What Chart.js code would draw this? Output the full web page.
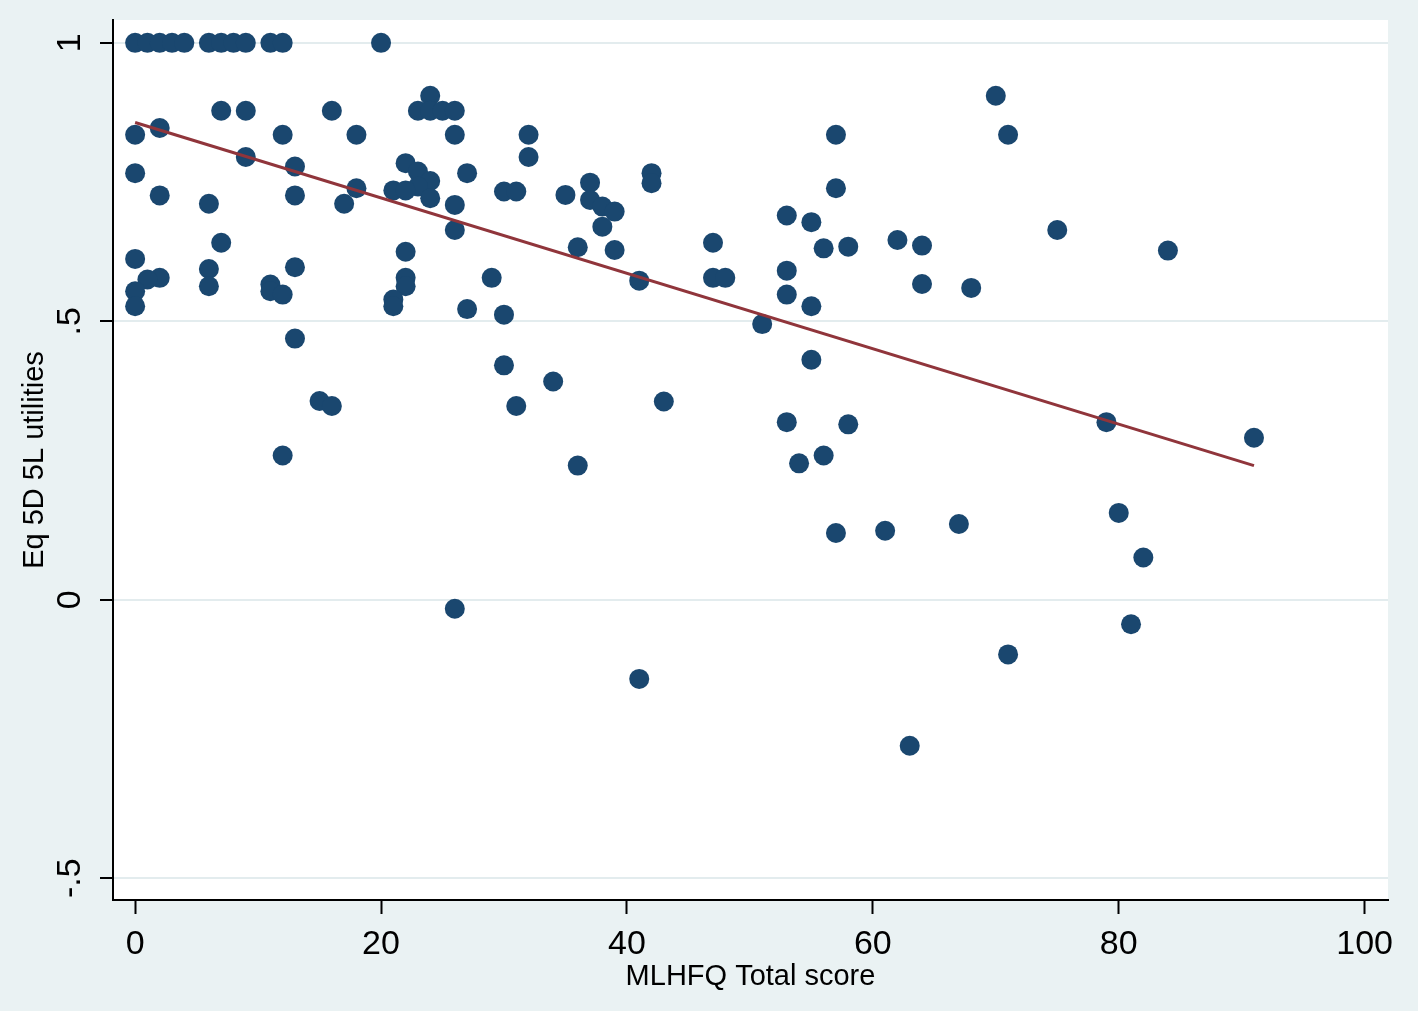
<!DOCTYPE html>
<html>
<head>
<meta charset="utf-8">
<script src="https://cdn.jsdelivr.net/npm/chart.js@4.4.1/dist/chart.umd.min.js"></script>
<style>
  html, body { margin: 0; padding: 0; background: #fff; }
  canvas { display: block; }
</style>
</head>
<body>
<canvas id="chart" width="1418" height="1011"></canvas>
<script>
// MLHFQ total score (x) and EQ-5D-5L utility (y)
const scoreX = [
  0, 1, 2, 3, 4, 6, 7, 8, 9, 11, 12, 20,
  24, 70,
  7, 9, 16, 23, 24, 25, 26,
  0, 2, 12, 18, 26, 32, 57, 71,
  9, 32, 22, 13, 23, 0, 27, 42,
  24, 37, 42, 23, 18, 57, 21, 22, 30, 31,
  35, 2, 13, 24, 37, 6, 17, 26, 38, 39,
  53, 55, 38, 26, 75, 62, 7, 47, 64, 58, 36, 56, 39, 84, 22,
  0, 13, 6, 53, 2, 22, 29, 47, 48, 1, 41,
  64, 11, 6, 22, 68, 0, 11, 12, 53, 21, 0, 21, 55, 27, 30, 51,
  13, 55, 30, 34, 15, 43, 16, 31, 53, 79, 58, 91,
  12, 56, 54, 36, 80, 67, 61, 57, 82,
  26, 81, 71, 41, 63
];
const utilityY = [
  1, 1, 1, 1, 1, 1, 1, 1, 1, 1, 1, 1,
  0.905, 0.905,
  0.878, 0.878, 0.878, 0.878, 0.878, 0.878, 0.878,
  0.835, 0.847, 0.835, 0.835, 0.835, 0.835, 0.835, 0.835,
  0.795, 0.795, 0.784, 0.778, 0.769, 0.766, 0.766, 0.766,
  0.752, 0.749, 0.748, 0.742, 0.739, 0.739, 0.735, 0.735, 0.733, 0.733,
  0.727, 0.726, 0.726, 0.721, 0.718, 0.711, 0.711, 0.709, 0.706, 0.697,
  0.690, 0.678, 0.670, 0.664, 0.664, 0.646, 0.641, 0.641, 0.636, 0.634, 0.633, 0.631, 0.628, 0.627, 0.625,
  0.612, 0.597, 0.594, 0.591, 0.578, 0.578, 0.578, 0.578, 0.578, 0.575, 0.573,
  0.567, 0.566, 0.563, 0.563, 0.560, 0.554, 0.554, 0.548, 0.548, 0.539, 0.527, 0.527, 0.527, 0.522, 0.512, 0.495,
  0.469, 0.431, 0.421, 0.392, 0.357, 0.356, 0.348, 0.348, 0.319, 0.319, 0.315, 0.291,
  0.259, 0.259, 0.245, 0.241, 0.156, 0.136, 0.124, 0.120, 0.076,
  -0.016, -0.044, -0.098, -0.142, -0.262
];

// fitted line end points
const fitX = [0, 91];
const fitY = [0.857, 0.241];

const xTicks = [0, 20, 40, 60, 80, 100];
const yTicks = [-0.5, 0, 0.5, 1];

const pts = scoreX.map((x, i) => ({ x: x, y: utilityY[i] }));
const fitPts = fitX.map((x, i) => ({ x: x, y: fitY[i] }));

const bgPlugin = {
  id: 'bg',
  beforeDraw(chart) {
    const ctx = chart.ctx;
    const a = chart.chartArea;
    ctx.save();
    ctx.fillStyle = '#eaf2f3';
    ctx.fillRect(0, 0, chart.width, chart.height);
    ctx.fillStyle = '#ffffff';
    ctx.fillRect(a.left, a.top, a.right - a.left, a.bottom - a.top);
    ctx.restore();
  }
};

Chart.defaults.font.family = "'Liberation Sans', Arial, sans-serif";
Chart.defaults.color = '#000';

new Chart(document.getElementById('chart'), {
  type: 'scatter',
  data: {
    datasets: [
      {
        label: 'Fitted values',
        data: fitPts,
        showLine: true,
        borderColor: '#90353b',
        borderWidth: 3,
        pointRadius: 0,
        order: 0
      },
      {
        label: 'Eq 5D 5L utilities',
        data: pts,
        backgroundColor: '#1a476f',
        borderWidth: 0,
        pointRadius: 10,
        order: 1
      }
    ]
  },
  options: {
    responsive: false,
    animation: false,
    events: [],
    layout: { padding: { top: 20, right: 30, left: 0, bottom: 0 } },
    plugins: {
      legend: { display: false },
      tooltip: { enabled: false }
    },
    scales: {
      x: {
        type: 'linear',
        min: -1.8,
        max: 101.9,
        afterBuildTicks: s => { s.ticks = xTicks.map(v => ({ value: v })); },
        afterFit: s => { s.height = 111; },
        ticks: { font: { size: 34 }, padding: 10, color: '#000' },
        grid: {
          drawOnChartArea: false,
          drawTicks: true,
          tickLength: 14,
          tickColor: '#000',
          tickWidth: 2
        },
        border: { color: '#000', width: 2 },
        title: {
          display: true,
          text: 'MLHFQ Total score',
          font: { size: 29 },
          color: '#000',
          padding: { top: 0, bottom: 17 }
        }
      },
      y: {
        type: 'linear',
        min: -0.539,
        max: 1.041,
        afterBuildTicks: s => { s.ticks = yTicks.map(v => ({ value: v })); },
        afterFit: s => {
          s.width = 113;
          s.paddingTop = 0;
          s.paddingBottom = 0;
        },
        ticks: {
          font: { size: 34 },
          padding: 10,
          color: '#000',
          minRotation: 90,
          maxRotation: 90,
          crossAlign: 'center',
          callback: v => String(v).replace('0.', '.')
        },
        grid: {
          color: '#e3ecee',
          lineWidth: 2,
          drawTicks: true,
          tickLength: 13,
          tickColor: '#000',
          tickWidth: 2
        },
        border: { color: '#000', width: 2 },
        title: {
          display: true,
          text: 'Eq 5D 5L utilities',
          font: { size: 29 },
          color: '#000',
          padding: { top: 18, bottom: 0 }
        }
      }
    }
  },
  plugins: [bgPlugin]
});
</script>
</body>
</html>
